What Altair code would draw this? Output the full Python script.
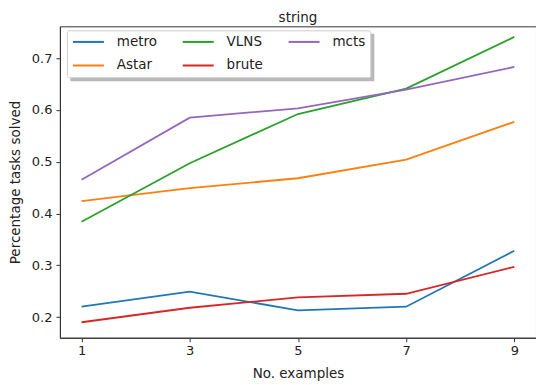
import altair as alt
import pandas as pd

examples = [1, 3, 5, 7, 9]
metro = [0.220, 0.249, 0.213, 0.220, 0.328]
astar = [0.424, 0.449, 0.468, 0.504, 0.577]
vlns = [0.384, 0.497, 0.592, 0.641, 0.741]
brute = [0.190, 0.218, 0.238, 0.245, 0.297]
mcts = [0.465, 0.585, 0.603, 0.639, 0.683]

series = {"metro": metro, "Astar": astar, "VLNS": vlns, "brute": brute, "mcts": mcts}
rows = []
for name, vals in series.items():
    for x, v in zip(examples, vals):
        rows.append({"method": name, "examples": x, "value": v})
df = pd.DataFrame(rows)

# row-major legend order so columns read metro/Astar, VLNS/brute, mcts
legend_order = ["metro", "VLNS", "mcts", "Astar", "brute"]
legend_colors = ["#1f77b4", "#2ca02c", "#9467bd", "#ff7f0e", "#d62728"]

font = "DejaVu Sans"

# decorative drop shadow behind the legend box
shadow = alt.Chart(pd.DataFrame({"k": [0]})).mark_rect(
    fill="#9a9a9a", opacity=0.7
).encode(
    x=alt.value(10.5), x2=alt.value(315), y=alt.value(7.5), y2=alt.value(55)
)

lines = alt.Chart(df).mark_line(strokeWidth=1.8).encode(
    x=alt.X("examples:Q", scale=alt.Scale(domain=[0.6, 9.4], nice=False, zero=False),
            axis=alt.Axis(values=examples, title="No. examples", grid=False,
                          tickSize=4, labelPadding=3, titlePadding=9)),
    y=alt.Y("value:Q", scale=alt.Scale(domain=[0.1601, 0.7613], nice=False, zero=False),
            axis=alt.Axis(values=[0.2, 0.3, 0.4, 0.5, 0.6, 0.7], format=".1f",
                          title="Percentage tasks solved", grid=False,
                          tickSize=4, labelPadding=4, titlePadding=9)),
    color=alt.Color("method:N", sort=legend_order,
                    scale=alt.Scale(domain=legend_order, range=legend_colors),
                    legend=alt.Legend(title=None, orient="none", legendX=7, legendY=4,
                                      columns=3, direction="horizontal",
                                      symbolType="M-1,0H5", symbolSize=107,
                                      symbolStrokeWidth=2, labelOffset=32,
                                      columnPadding=21, rowPadding=9,
                                      labelFontSize=13.5, labelFont=font, labelColor="#222",
                                      padding=4.5, strokeColor="#cccccc", fillColor="white",
                                      cornerRadius=2)),
    order=alt.Order("examples:Q"),
)

chart = alt.layer(shadow, lines).properties(
    width=477, height=312,
    title=alt.TitleParams("string", font=font, fontSize=13.5, fontWeight="normal",
                          color="#222", offset=2),
    autosize=alt.AutoSizeParams(type="none"),
    padding={"left": 52, "top": 18, "right": 0, "bottom": 47},
).configure_view(
    stroke="#333", strokeWidth=1
).configure_axis(
    labelFont=font, titleFont=font, labelFontSize=13, titleFontSize=13.5,
    labelColor="#222", titleColor="#222", titleFontWeight="normal",
    domainColor="#333", tickColor="#333"
)

chart.save("out.html", embed_options={"renderer": "svg", "actions": False})
